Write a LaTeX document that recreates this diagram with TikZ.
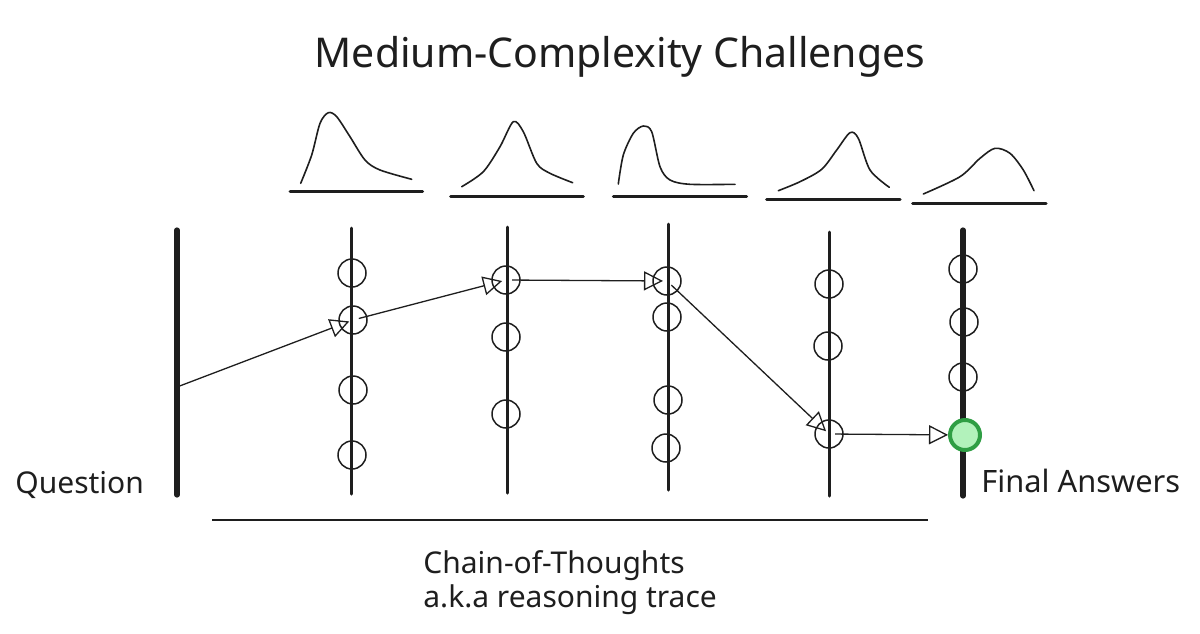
\documentclass[tikz,border=0pt]{standalone}
\usepackage{fontspec}
\setmainfont{Noto Sans}
\usetikzlibrary{arrows.meta}
\definecolor{ink}{HTML}{1E1E1E}
\definecolor{okfill}{HTML}{B2F2BB}
\definecolor{okline}{HTML}{2F9E44}
\tikzset{
  thought/.style={circle,draw=ink,line width=0.75pt,minimum size=14pt,inner sep=0pt},
  answer/.style={circle,draw=okline,fill=okfill,line width=2pt,minimum size=15pt,inner sep=0pt},
  hop/.style={draw=ink,line width=0.65pt,-{Triangle[open,length=9.5pt,width=9.5pt]},shorten >=2pt,shorten <=3pt},
  layer/.style={draw=ink,line width=1.5pt,line cap=round},
  endlayer/.style={draw=ink,line width=2.6pt,line cap=round},
  curve/.style={draw=ink,line width=0.8pt,line cap=round},
  caption/.style={inner sep=0pt,anchor=base west,text=ink,font=\fontsize{15pt}{17pt}\selectfont}
}
\begin{document}
\begin{tikzpicture}[x=0.5pt,y=-0.5pt]
\useasboundingbox (0,0) rectangle (1200,633);
\node[inner sep=0pt,anchor=base,text=ink,font=\fontsize{20.5pt}{24pt}\selectfont] (title) at (620,67) {Medium-Complexity Challenges};

\draw[curve] plot[smooth] coordinates {(300.7,183.3) (311.7,155) (320,123.3) (328.3,112.7) (336.7,116.7) (350,136.7) (365,160) (380,170) (411.7,179.3)};
\draw[layer] (290,191.7) -- (422.7,191.7);
\draw[curve] plot[smooth] coordinates {(461.7,186.7) (483.3,171.7) (500,146.7) (513.3,121.7) (523.3,131.7) (536.7,163.3) (550,173.3) (572.7,182.7)};
\draw[layer] (450.7,196) -- (583.3,196);
\draw[curve] plot[smooth] coordinates {(618.3,184) (623.3,155) (633.3,133.3) (643.3,126) (651.7,131.7) (660,166.7) (670,180) (690,184.3) (735,184.3)};
\draw[layer] (613.3,196.7) -- (746.7,196.7);
\draw[curve] plot[smooth] coordinates {(778.3,190.7) (800,181.7) (821.7,169.3) (836.7,150) (850,132.7) (858.3,138.3) (870,170) (889.3,187.3)};
\draw[layer] (766.7,199.3) -- (900,199.3);
\draw[curve] plot[smooth] coordinates {(923.3,194) (960,176.7) (980,158.3) (995,148.3) (1010,153.3) (1023.3,170) (1034,190.7)};
\draw[layer] (912.7,203.3) -- (1046,203.3);

\coordinate (qtop) at (177,230);
\coordinate (qbot) at (177,495);
\coordinate (qin) at (177,387);
\draw[endlayer] (qtop) -- (qbot);
\node[caption] (question) at (15,493) {Question};

\coordinate (top1) at (351,228);
\coordinate (bot1) at (351,494);
\draw[layer] (top1) -- (bot1);
\node[thought] (c1a) at (352,273) {};
\node[thought] (c1b) at (353,320) {};
\node[thought] (c1c) at (353,390) {};
\node[thought] (c1d) at (352,455) {};

\coordinate (top2) at (507,227);
\coordinate (bot2) at (507,493);
\draw[layer] (top2) -- (bot2);
\node[thought] (c2a) at (506,280) {};
\node[thought] (c2b) at (506,337) {};
\node[thought] (c2c) at (506,414) {};

\coordinate (top3) at (668,224);
\coordinate (bot3) at (668,490);
\draw[layer] (top3) -- (bot3);
\node[thought] (c3a) at (667,281) {};
\node[thought] (c3b) at (667,317) {};
\node[thought] (c3c) at (668,400) {};
\node[thought] (c3d) at (666,448) {};

\coordinate (top4) at (829,232);
\coordinate (bot4) at (829,496);
\draw[layer] (top4) -- (bot4);
\node[thought] (c4a) at (829,284) {};
\node[thought] (c4b) at (828,346) {};
\node[thought] (c4c) at (829,434) {};

\coordinate (top5) at (963,230);
\coordinate (bot5) at (963,496);
\draw[endlayer] (top5) -- (bot5);
\node[thought] (c5a) at (963,269) {};
\node[thought] (c5b) at (964,322) {};
\node[thought] (c5c) at (963,377) {};
\node[answer] (final) at (965,435) {};
\node[caption,font=\fontsize{15.4pt}{17pt}\selectfont] (finaltext) at (981,492) {Final Answers};

\draw[hop,shorten <=0pt] (qin) -- (c1b.center);
\draw[hop] (c1b.center) -- (c2a.center);
\draw[hop] (c2a.center) -- (c3a.center);
\draw[hop] (c3a.center) -- (c4c.center);
\draw[hop,shorten >=0pt] (c4c.center) -- (final);

\coordinate (cotleft) at (212,520);
\coordinate (cotright) at (928,520);
\draw[draw=ink,line width=0.7pt] (cotleft) -- (cotright);
\node[caption,align=left] (cot) at (423,607) {Chain-of-Thoughts\\a.k.a reasoning trace};
\end{tikzpicture}
\end{document}
